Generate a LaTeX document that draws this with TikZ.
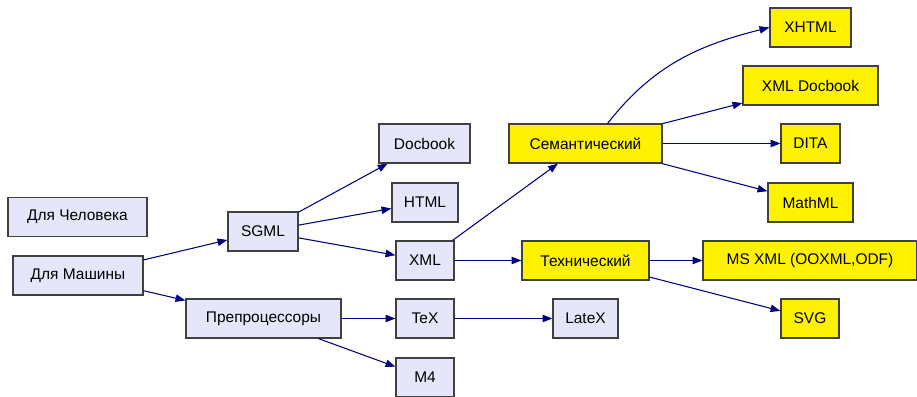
\documentclass[tikz,border=0pt]{standalone}
\usepackage{fontspec}
\setmainfont{Liberation Sans}
\usetikzlibrary{arrows.meta}
\definecolor{lav}{HTML}{E6E6FA}
\definecolor{edgeblue}{HTML}{000080}
\begin{document}
\begin{tikzpicture}[x=0.02cm,y=-0.02cm,
    box/.style={draw=black!75,line width=0.7pt,fill=lav,inner sep=0pt,
      minimum height=39*0.02cm,minimum width=#1*0.02cm,
      font=\fontsize{8.8}{10}\selectfont},
    ybox/.style={box=#1,fill=yellow},
    link/.style={draw=edgeblue,line width=0.6pt,-{Triangle[length=5.6pt,width=4.2pt]}}]
            \useasboundingbox (0,0) rectangle (917,396);
            \node[box=139] (human) at (77.5,217) {Для Человека};
            \node[box=130] (machine) at (78,275.5) {Для Машины};
            \node[box=70] (sgml) at (263,231.5) {SGML};
            \node[box=155] (prep) at (263.5,318.5) {Препроцессоры};
            \node[box=91] (docbook) at (424.5,143.5) {Docbook};
            \node[box=66] (html) at (425,202.5) {HTML};
            \node[box=58] (xml) at (425,260.5) {XML};
            \node[box=58] (tex) at (425,318.5) {TeX};
            \node[box=58] (mfour) at (425,377.5) {M4};
            \node[box=65] (latex) at (585.5,318.5) {LateX};
            \node[ybox=153] (sem) at (585.5,143.5) {Семантический};
            \node[ybox=127] (tech) at (585.5,260.5) {Технический};
            \node[ybox=81] (xhtml) at (810.5,27.5) {XHTML};
            \node[ybox=135] (xmldoc) at (810.5,85.5) {XML Docbook};
            \node[ybox=59] (dita) at (810.5,143.5) {DITA};
            \node[ybox=85] (mathml) at (810.5,202.5) {MathML};
            \node[ybox=214] (msxml) at (810,260.5) {MS XML (OOXML,ODF)};
            \node[ybox=58] (svg) at (810,318.5) {SVG};
            \draw[link] (machine) -- (sgml);
            \draw[link] (machine) -- (prep);
            \draw[link] (sgml) -- (docbook);
            \draw[link] (sgml) -- (html);
            \draw[link] (sgml) -- (xml);
            \draw[link] (prep) -- (tex);
            \draw[link] (prep) -- (mfour);
            \draw[link] (tex) -- (latex);
            \draw[link] (xml) -- (sem);
            \draw[link] (xml) -- (tech);
            \draw[link] (sem.north east) ++(-55,0) to[out=52,in=194] (xhtml.west);
            \draw[link] (sem) -- (xmldoc);
            \draw[link] (sem) -- (dita);
            \draw[link] (sem) -- (mathml);
            \draw[link] (tech) -- (msxml);
            \draw[link] (tech) -- (svg);
        \end{tikzpicture}
\end{document}
